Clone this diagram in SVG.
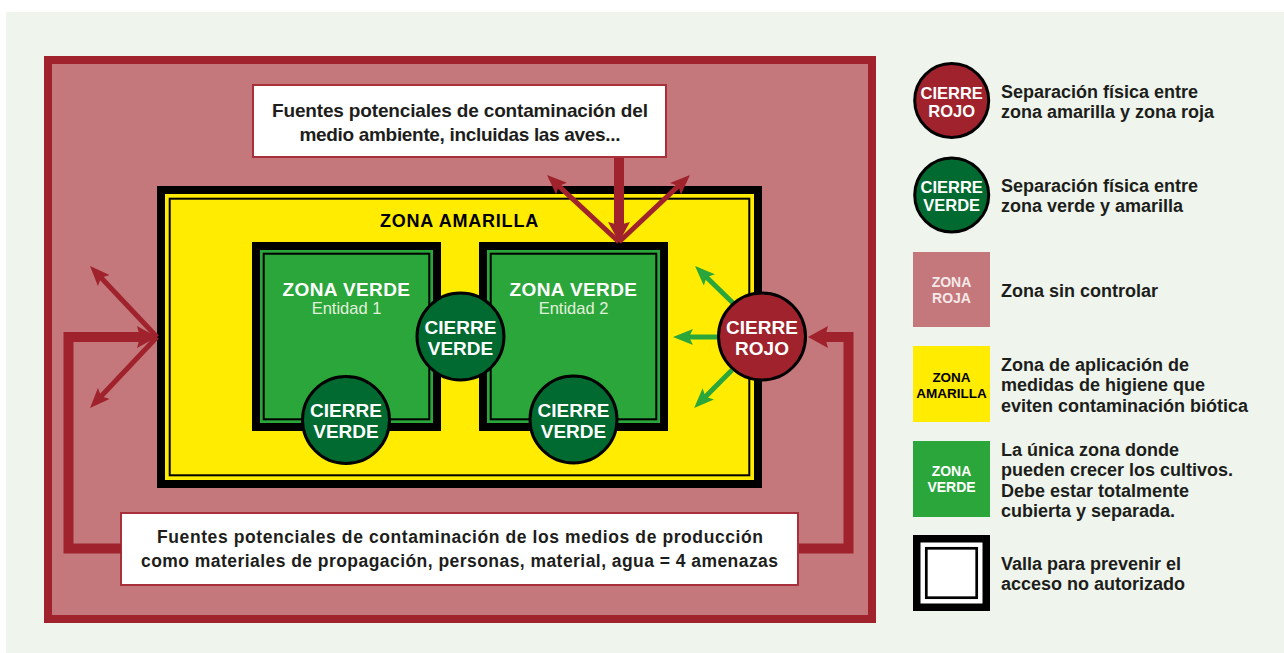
<svg xmlns="http://www.w3.org/2000/svg" width="1284" height="653" viewBox="0 0 1284 653">
<style>
.t{font-family:"Liberation Sans",Arial,sans-serif;font-weight:bold}
.r{font-family:"Liberation Sans",Arial,sans-serif;font-weight:normal}
.w{fill:#ffffff}
.dk{fill:#1d1d1b}
.thick{fill:none;stroke:#a0222c;stroke-width:10;stroke-linejoin:miter}
.thinr{fill:none;stroke:#a0222c;stroke-width:5}
.thing{fill:none;stroke:#2aa63a;stroke-width:5}
.cv{fill:#006a30;stroke:#000;stroke-width:3}
.cr{fill:#a0222c;stroke:#000;stroke-width:3}
.box{fill:#ffffff;stroke:#a8303a;stroke-width:2}
.lg{font-size:18px}
</style>
<defs>
<marker id="hThick" markerUnits="userSpaceOnUse" viewBox="0 0 20 22" markerWidth="20" markerHeight="22" refX="8" refY="11" orient="auto"><path d="M0,0 L20,11 L0,22 L3,11 z" fill="#a0222c"/></marker>
<marker id="hRed" markerUnits="userSpaceOnUse" viewBox="0 0 20 16" markerWidth="20" markerHeight="16" refX="10" refY="8" orient="auto"><path d="M0,0 L20,8 L0,16 L4,8 z" fill="#a0222c"/></marker>
<marker id="hGreen" markerUnits="userSpaceOnUse" viewBox="0 0 20 16" markerWidth="20" markerHeight="16" refX="10" refY="8" orient="auto"><path d="M0,0 L20,8 L0,16 L4,8 z" fill="#2aa63a"/></marker>
</defs>
<rect x="0" y="0" width="1284" height="653" fill="#ffffff"/>
<rect x="6" y="12" width="1278" height="641" fill="#eff5ec"/>

<g id="zona-roja">
<rect x="48" y="60" width="824" height="559" fill="#c4787c" stroke="#a0222c" stroke-width="8"/>
</g>

<g id="zona-amarilla">
<rect x="157" y="186" width="605" height="302" fill="#000"/>
<rect x="165" y="194" width="589" height="286" fill="#ffec00"/>
<rect x="169.7" y="198.7" width="579.6" height="276.6" fill="none" stroke="#000" stroke-width="2"/>
<text class="t" x="459.5" y="226.7" font-size="18" letter-spacing="0.8" text-anchor="middle" fill="#000">ZONA AMARILLA</text>
</g>

<g id="zona-verde-1">
<rect x="252" y="242" width="189" height="189" fill="#000"/>
<rect x="260" y="250" width="173" height="173" fill="#2aa63a"/>
<rect x="263.7" y="253.7" width="165.6" height="165.6" fill="none" stroke="#000" stroke-width="2"/>
<text class="t w" x="346.5" y="295.7" font-size="19" letter-spacing="0.4" text-anchor="middle">ZONA VERDE</text>
<text class="r" x="346.5" y="313.5" font-size="16.5" text-anchor="middle" fill="#e2f1dc">Entidad 1</text>
</g>

<g id="zona-verde-2">
<rect x="479" y="242" width="189" height="189" fill="#000"/>
<rect x="487" y="250" width="173" height="173" fill="#2aa63a"/>
<rect x="490.7" y="253.7" width="165.6" height="165.6" fill="none" stroke="#000" stroke-width="2"/>
<text class="t w" x="573.5" y="295.5" font-size="19" letter-spacing="0.4" text-anchor="middle">ZONA VERDE</text>
<text class="r" x="573.5" y="313.5" font-size="16.5" text-anchor="middle" fill="#e2f1dc">Entidad 2</text>
</g>

<g id="fuentes-ambiente">
<rect class="box" x="253" y="85" width="413" height="72"/>
<text class="t dk" x="460" y="117.3" font-size="19" text-anchor="middle" textLength="376" lengthAdjust="spacing">Fuentes potenciales de contaminación del</text>
<text class="t dk" x="460" y="141" font-size="19" text-anchor="middle" textLength="321" lengthAdjust="spacing">medio ambiente, incluidas las aves...</text>
</g>

<g id="fuentes-produccion">
<rect class="box" x="121" y="513" width="677" height="72"/>
<text class="t dk" x="460" y="542.7" font-size="17.5" text-anchor="middle" textLength="606" lengthAdjust="spacing">Fuentes potenciales de contaminación de los medios de producción</text>
<text class="t dk" x="459.5" y="566.7" font-size="17.5" text-anchor="middle" textLength="637" lengthAdjust="spacing">como materiales de propagación, personas, material, agua = 4 amenazas</text>
</g>

<g id="connectors">
<line class="thick" x1="619" y1="158" x2="619" y2="230" marker-end="url(#hThick)"/>
<path class="thick" d="M121 548.5 H68.5 V337 H145" marker-end="url(#hThick)"/>
<path class="thick" d="M799 548.5 H848.5 V337 H820" marker-end="url(#hThick)"/>
<line class="thinr" x1="619" y1="242" x2="554.3" y2="181.8" marker-end="url(#hRed)"/>
<line class="thinr" x1="619" y1="242" x2="682.7" y2="181.9" marker-end="url(#hRed)"/>
<line class="thinr" x1="157" y1="337" x2="96.9" y2="273.3" marker-end="url(#hRed)"/>
<line class="thinr" x1="157" y1="337" x2="96.9" y2="400.7" marker-end="url(#hRed)"/>
<line class="thing" x1="733" y1="303" x2="702.2" y2="273" marker-end="url(#hGreen)"/>
<line class="thing" x1="718" y1="337" x2="683" y2="337" marker-end="url(#hGreen)"/>
<line class="thing" x1="732" y1="370" x2="701.2" y2="400.9" marker-end="url(#hGreen)"/>
</g>

<g id="cierre-verde-centro">
<circle class="cv" cx="460.5" cy="336.5" r="43.5"/>
<text class="t w" x="460.5" y="334" font-size="19" text-anchor="middle">CIERRE</text>
<text class="t w" x="460.5" y="354.5" font-size="19" text-anchor="middle">VERDE</text>
</g>
<g id="cierre-verde-1">
<circle class="cv" cx="346" cy="420" r="43.5"/>
<text class="t w" x="346" y="417.3" font-size="19" text-anchor="middle">CIERRE</text>
<text class="t w" x="346" y="437.8" font-size="19" text-anchor="middle">VERDE</text>
</g>
<g id="cierre-verde-2">
<circle class="cv" cx="573.5" cy="419.5" r="43.5"/>
<text class="t w" x="573.5" y="417.3" font-size="19" text-anchor="middle">CIERRE</text>
<text class="t w" x="573.5" y="437.8" font-size="19" text-anchor="middle">VERDE</text>
</g>
<g id="cierre-rojo">
<circle class="cr" cx="762" cy="336.5" r="43.5"/>
<text class="t w" x="762" y="334" font-size="19" text-anchor="middle">CIERRE</text>
<text class="t w" x="762" y="355" font-size="19" text-anchor="middle">ROJO</text>
</g>

<g id="legend-cierre-rojo">
<circle class="cr" cx="951.7" cy="100.5" r="37" stroke-width="2.5"/>
<text class="t w" x="951.7" y="98.5" font-size="16.5" text-anchor="middle">CIERRE</text>
<text class="t w" x="951.7" y="116.5" font-size="16.5" text-anchor="middle">ROJO</text>
<text class="t dk lg" x="1001" y="98.3">Separación física entre</text>
<text class="t dk lg" x="1001" y="118.3">zona amarilla y zona roja</text>
</g>
<g id="legend-cierre-verde">
<circle class="cv" cx="951.7" cy="195" r="37" stroke-width="2.5"/>
<text class="t w" x="951.7" y="193" font-size="16.5" text-anchor="middle">CIERRE</text>
<text class="t w" x="951.7" y="210.8" font-size="16.5" text-anchor="middle">VERDE</text>
<text class="t dk lg" x="1001" y="191.7">Separación física entre</text>
<text class="t dk lg" x="1001" y="211.7">zona verde y amarilla</text>
</g>
<g id="legend-zona-roja">
<rect x="913" y="252" width="77" height="75" fill="#c4787c"/>
<text class="t" x="951.5" y="286.7" font-size="14" text-anchor="middle" fill="#f6e8e8">ZONA</text>
<text class="t" x="951.5" y="302.5" font-size="14" text-anchor="middle" fill="#f6e8e8">ROJA</text>
<text class="t dk lg" x="1001" y="296.7">Zona sin controlar</text>
</g>
<g id="legend-zona-amarilla">
<rect x="913" y="346" width="77" height="76" fill="#ffec00"/>
<text class="t" x="951.5" y="381.7" font-size="13.5" text-anchor="middle" fill="#000">ZONA</text>
<text class="t" x="951.5" y="397.7" font-size="13.5" text-anchor="middle" fill="#000">AMARILLA</text>
<text class="t dk lg" x="1001" y="370.5">Zona de aplicación de</text>
<text class="t dk lg" x="1001" y="391">medidas de higiene que</text>
<text class="t dk lg" x="1001" y="411.5">eviten contaminación biótica</text>
</g>
<g id="legend-zona-verde">
<rect x="913" y="441" width="77" height="76" fill="#2aa63a"/>
<text class="t w" x="951.5" y="475.7" font-size="14" text-anchor="middle">ZONA</text>
<text class="t w" x="951.5" y="491.7" font-size="14" text-anchor="middle">VERDE</text>
<text class="t dk lg" x="1001" y="455.5">La única zona donde</text>
<text class="t dk lg" x="1001" y="476">pueden crecer los cultivos.</text>
<text class="t dk lg" x="1001" y="496.5">Debe estar totalmente</text>
<text class="t dk lg" x="1001" y="517">cubierta y separada.</text>
</g>
<g id="legend-valla">
<rect x="913" y="535" width="77" height="76" fill="#000"/>
<rect x="920.5" y="542.5" width="62" height="61" fill="#fff"/>
<rect x="926.3" y="548.3" width="50.4" height="49.4" fill="none" stroke="#000" stroke-width="2.7"/>
<text class="t dk lg" x="1001" y="570">Valla para prevenir el</text>
<text class="t dk lg" x="1001" y="590">acceso no autorizado</text>
</g>
</svg>
